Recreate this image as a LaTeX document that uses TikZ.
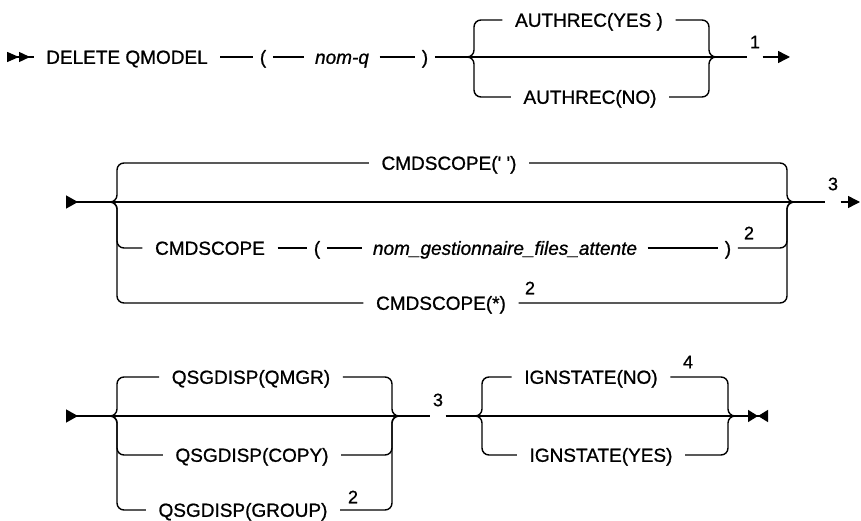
\documentclass[tikz,border=0pt]{standalone}
\usepackage{fontspec}
\setmainfont{Liberation Sans}[FakeBold=0.9]
\usetikzlibrary{arrows.meta}
\tikzset{
  kw/.style={inner xsep=12pt, inner ysep=0pt, text height=13.6pt, text depth=0pt},
  par/.style={kw, inner xsep=6pt},
  var/.style={kw, inner xsep=10pt, font=\fontsize{19}{22}\selectfont\itshape},
  fn/.style={inner sep=2pt, font=\fontsize{18}{20}\selectfont},
  brace/.style={rounded corners=7pt}
}
\begin{document}
\begin{tikzpicture}[x=1pt, y=-1pt, line width=1.4pt, font=\fontsize{19}{22}\selectfont]
\useasboundingbox (0,0) rectangle (861,521);

\coordinate (s1) at (7,57);
\coordinate (a1l) at (474,57);
\coordinate (a1r) at (709,57);
\coordinate (e1) at (790,57);
\node[kw] (del) at (127,57) {DELETE QMODEL};
\node[par] (lp1) at (263,57) {(};
\node[var] (nq) at (342,57) {nom-q};
\node[par] (rp1) at (425,57) {)};
\node[kw] (yes) at (589,20) {AUTHREC(YES )};
\node[kw] (no) at (590,97) {AUTHREC(NO)};
\node[fn] (fn1) at (755,42) {1};
\draw[{Triangle[reversed,length=12pt,width=10pt]Triangle[reversed,length=11pt,width=10pt]}-] (s1) -- (del);
\draw (del) -- (lp1) -- (nq) -- (rp1) -- (a1r) -- (fn1.west |- a1r);
\draw[-{Triangle[length=12pt,width=12pt]}] (fn1.east |- a1r) -- (e1);

\coordinate (s2) at (66,202);
\coordinate (c2l) at (117,202);
\coordinate (c2r) at (787,202);
\coordinate (e2) at (860,202);
\node[kw] (blank) at (449,163) {CMDSCOPE(\textquotesingle\ \textquotesingle)};
\node[kw] (cs) at (210,248) {CMDSCOPE};
\node[par] (lp2) at (317,248) {(};
\node[var] (qm) at (505,248) {nom\_gestionnaire\_files\_attente};
\node[par] (rp2) at (728,248) {)};
\node[fn] (fn2) at (749,233) {2};
\node[kw] (all) at (441,303) {CMDSCOPE(*)};
\node[fn] (fn2b) at (530,288) {2};
\node[fn] (fn3) at (833,184) {3};
\draw[{Triangle[reversed,length=12pt,width=13pt]}-] (s2) -- (c2r) -- (fn3.west |- c2r);
\draw[-{Triangle[length=12pt,width=12pt]}] (fn3.east |- c2r) -- (e2);
\draw (cs) -- (lp2) -- (qm) -- (rp2);

\coordinate (s3) at (66,416);
\coordinate (c3l) at (117,416);
\coordinate (c3r) at (392,416);
\coordinate (c4l) at (482,416);
\coordinate (c4r) at (728,416);
\coordinate (e3) at (768,416);
\node[kw] (qmgr) at (251,377) {QSGDISP(QMGR)};
\node[kw] (copy) at (252,455) {QSGDISP(COPY)};
\node[kw] (group) at (243,510) {QSGDISP(GROUP)};
\node[fn] (fn2c) at (353,497) {2};
\node[fn] (fn4) at (438,400) {3};
\node[kw] (ino) at (591,377) {IGNSTATE(NO)};
\node[kw] (iyes) at (601,455) {IGNSTATE(YES)};
\node[fn] (fn5) at (688,362) {4};
\draw[{Triangle[reversed,length=12pt,width=13pt]}-] (s3) -- (c3r) -- (fn4.west |- c3r);
\draw[-{Triangle[length=10pt,width=12pt]Triangle[reversed,length=10pt,width=12pt]}] (fn4.east |- c3r) -- (c4r) -- (e3);

\foreach \first/\last/\l/\r in {yes/yes/a1l/a1r, no/no/a1l/a1r, blank/blank/c2l/c2r, cs/rp2/c2l/c2r, all/all/c2l/c2r,
  qmgr/qmgr/c3l/c3r, copy/copy/c3l/c3r, group/group/c3l/c3r, ino/ino/c4l/c4r, iyes/iyes/c4l/c4r}
{\draw[brace] (\l) ++(-7,0) -- (\l) -- (\l |- \first) -- (\first);
 \draw[brace] (\last) -- (\r |- \last) -- (\r) -- ++(7,0);}
\end{tikzpicture}
\end{document}
